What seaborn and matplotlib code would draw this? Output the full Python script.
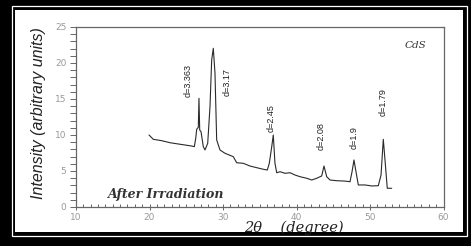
import numpy as np
import pandas as pd
import matplotlib
matplotlib.use("Agg")
import matplotlib.pyplot as plt
from matplotlib.patches import Rectangle
from matplotlib.ticker import MultipleLocator
import seaborn as sns

# XRD pattern of CdS after irradiation
two_theta = [19.93, 20.52, 21.66, 22.79, 23.92, 24.83, 25.74, 26.10, 26.29, 26.42,
             26.64, 26.73, 26.83, 27.01, 27.32, 27.55, 27.92, 28.23, 28.46, 28.68,
             28.91, 29.14, 29.59, 30.27, 31.40, 31.86, 32.76, 33.67, 34.59, 35.48,
             36.03, 36.30, 36.63, 36.84, 37.07, 37.31, 37.76, 38.44, 39.12, 39.80,
             40.48, 41.39, 42.07, 42.75, 43.43, 43.74, 44.11, 44.56, 45.47, 46.60,
             47.28, 47.55, 47.82, 48.10, 48.41, 49.32, 50.27, 51.13, 51.50, 51.81,
             52.04, 52.35, 52.95]
intensity = [10.0, 9.40, 9.21, 8.93, 8.75, 8.61, 8.47, 8.38, 9.54, 10.79,
             11.07, 15.10, 10.69, 10.46, 8.38, 7.92, 8.85, 13.93, 20.42, 22.04,
             18.57, 9.31, 7.92, 7.46, 6.99, 6.15, 6.07, 5.69, 5.46, 5.24,
             5.14, 6.07, 8.38, 10.0, 6.07, 4.76, 4.90, 4.68, 4.76, 4.44,
             4.21, 3.99, 3.75, 3.99, 4.31, 5.69, 4.21, 3.75, 3.65, 3.60,
             3.51, 4.86, 6.53, 4.86, 3.06, 3.06, 2.92, 2.96, 4.44, 9.40,
             6.53, 2.60, 2.60]

# d-spacing labels and where they sit
d_labels = ["d=3.363", "d=3.17", "d=2.45", "d=2.08", "d=1.9", "d=1.79"]
d_x = [25.2, 30.5, 36.5, 43.4, 47.8, 51.8]
d_y = [17.6, 17.4, 12.4, 9.9, 9.6, 14.6]

df = pd.DataFrame({"2theta": two_theta, "I": intensity})

sns.set_style("ticks")
plt.rcParams["font.family"] = ["DejaVu Sans"]
narrow = ["Liberation Sans Narrow", "Liberation Sans", "DejaVu Sans"]

fig = plt.figure(figsize=(4.71, 2.46), dpi=100)
fig.patch.set_facecolor("black")
# double frame: thin white line, black band, white page
fig.patches.append(Rectangle((11.5 / 471, 10 / 246), 455 / 471, 230 / 246,
                             transform=fig.transFigure, fill=False,
                             edgecolor="white", linewidth=0.9, zorder=-2))
fig.patches.append(Rectangle((15 / 471, 14 / 246), 448 / 471, 222 / 246,
                             transform=fig.transFigure, facecolor="white",
                             edgecolor="none", zorder=-2))

ax = fig.add_axes([76 / 471, 39 / 246, 367.5 / 471, 180 / 246])
ax.set_facecolor("white")
ax.set_zorder(1)

sns.lineplot(data=df, x="2theta", y="I", sort=False, color="#2a2a2a",
             linewidth=0.8, ax=ax)

ax.set_xlim(10, 60)
ax.set_ylim(0, 25)
ax.xaxis.set_major_locator(MultipleLocator(10))
ax.xaxis.set_minor_locator(MultipleLocator(1))
ax.yaxis.set_major_locator(MultipleLocator(5))
ax.yaxis.set_minor_locator(MultipleLocator(1))

for s in ax.spines.values():
    s.set_color("#666666")
    s.set_linewidth(0.9)
    s.set_visible(True)

ax.tick_params(axis="y", which="both", direction="out", length=4.5, width=0.7,
               color="#666666", labelsize=6.5, labelcolor="#999999", pad=2.5)
ax.tick_params(axis="x", which="major", direction="inout", length=5, width=0.7,
               color="#666666", labelsize=6.5, labelcolor="#999999", pad=1.5)
ax.tick_params(axis="x", which="minor", direction="in", length=2.5, width=0.7,
               color="#666666")

ax.set_xlabel("2θ    (degree)", family="DejaVu Serif", style="italic",
              fontsize=10.5, color="#222222")
ax.xaxis.set_label_coords(0.593, -0.116)
ax.xaxis.label.set_va("center")
ax.set_ylabel("Intensity (arbitrary units)", family=narrow, style="italic",
              fontsize=11.5, color="#222222")
ax.yaxis.set_label_coords(-0.103, 0.52)
ax.yaxis.label.set_va("center")

for lab, x, y in zip(d_labels, d_x, d_y):
    ax.text(x, y, lab, rotation=90, ha="center", va="center",
            family=narrow, fontsize=6.5, color="#222222")

ax.text(0.952, 0.90, "CdS", transform=ax.transAxes, ha="right", va="center",
        family="DejaVu Serif", style="italic", fontsize=7.5, color="#333333")
ax.text(0.087, 0.072, "After Irradiation", transform=ax.transAxes, ha="left",
        va="center", family="DejaVu Serif", style="italic", weight="bold",
        fontsize=9, color="#333333")

fig.savefig("out.png", dpi=100, facecolor=fig.get_facecolor())
